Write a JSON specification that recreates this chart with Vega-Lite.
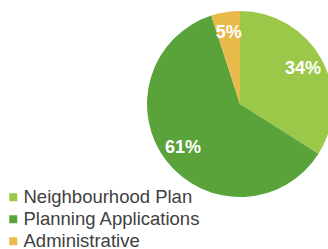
{
  "$schema": "https://vega.github.io/schema/vega-lite/v6.json",
  "width": 176,
  "height": 186,
  "padding": {"left": 152, "top": 11, "right": 0, "bottom": 52},
  "autosize": "none",
  "background": "white",
  "config": {"view": {"stroke": null}, "font": "Liberation Sans"},
  "data": {"values": [
    {"category": "Neighbourhood Plan", "share": 34, "label": "34%", "order": 1},
    {"category": "Planning Applications", "share": 61, "label": "61%", "order": 2},
    {"category": "Administrative", "share": 5, "label": "5%", "order": 3}
  ]},
  "encoding": {
    "theta": {"field": "share", "type": "quantitative", "stack": true},
    "order": {"field": "order", "type": "quantitative"}
  },
  "layer": [
    {
      "mark": {"type": "arc", "radius": 93},
      "encoding": {
        "color": {
          "field": "category", "type": "nominal",
          "sort": ["Neighbourhood Plan", "Planning Applications", "Administrative"],
          "scale": {"domain": ["Neighbourhood Plan", "Planning Applications", "Administrative"], "range": ["#9cc84a", "#5aa33b", "#e8ba4a"]},
          "legend": {
            "orient": "none", "legendX": -148, "legendY": 177, "title": null, "padding": 0,
            "symbolType": "square", "symbolSize": 64, "symbolStrokeWidth": 0,
            "labelFontSize": 18.5, "labelColor": "#404040", "labelFont": "Liberation Sans",
            "labelLimit": 400, "rowPadding": 3, "labelOffset": 1, "symbolOffset": 0
          }
        }
      }
    },
    {
      "mark": {"type": "text", "radius": 72, "fontSize": 18, "fontWeight": "bold", "color": "white", "font": "Liberation Sans"},
      "encoding": {"text": {"field": "label"}}
    }
  ]
}
